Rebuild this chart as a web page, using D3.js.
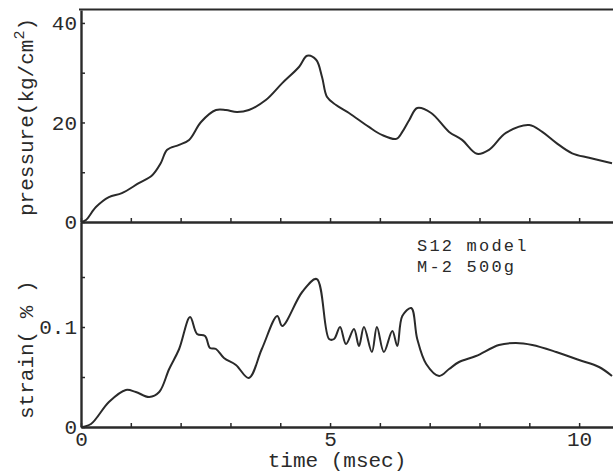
<!DOCTYPE html>
<html>
<head>
<meta charset="utf-8">
<script src="https://cdn.jsdelivr.net/npm/d3@7"></script>
<style>
  body { margin: 0; background: #fff; }
  text { font-family: "Liberation Mono", "Courier New", monospace; fill: #2a2a2a; }
</style>
</head>
<body>
<script>
// time (msec) and pressure (kg/cm2)
const pressureTime = [0, 0.1, 0.3, 0.56, 0.82, 1.16, 1.43, 1.6, 1.73, 1.97, 2.17, 2.41, 2.71, 2.91, 3.13, 3.37, 3.71, 4.04, 4.38, 4.54, 4.72, 4.84, 4.94, 5.12, 5.38, 5.78, 6.04, 6.33, 6.45, 6.59, 6.75, 7.03, 7.39, 7.65, 7.95, 8.19, 8.53, 9.0, 9.26, 9.54, 9.86, 10.2, 10.66];
const pressureVals = [0, 0.4, 3, 5, 5.8, 7.8, 9.4, 11.8, 14.5, 15.5, 16.5, 20.1, 22.5, 22.5, 22.1, 22.5, 24.5, 27.9, 31.2, 33.4, 32.6, 29.1, 25.1, 23.5, 21.9, 19.1, 17.5, 16.7, 18.1, 20.5, 22.9, 21.9, 18.1, 16.5, 13.7, 14.5, 17.9, 19.5, 18.1, 15.9, 13.8, 12.9, 11.8];

// time (msec) and strain (%), lower trace
const strainTime = [0, 0.2, 0.56, 0.9, 1.1, 1.37, 1.57, 1.77, 1.97, 2.19, 2.33, 2.49, 2.59, 2.71, 2.87, 3.11, 3.37, 3.63, 3.94, 4.04, 4.44, 4.73, 4.98, 5.08, 5.2, 5.32, 5.48, 5.58, 5.68, 5.84, 5.94, 6.08, 6.25, 6.35, 6.45, 6.63, 6.75, 6.93, 7.19, 7.39, 7.59, 7.93, 8.39, 8.73, 9.06, 9.54, 10.0, 10.4, 10.66];
const strainVals = [0, 0.003, 0.025, 0.037, 0.035, 0.030, 0.035, 0.058, 0.078, 0.110, 0.093, 0.091, 0.079, 0.078, 0.069, 0.062, 0.049, 0.078, 0.111, 0.101, 0.135, 0.148, 0.088, 0.088, 0.1, 0.083, 0.098, 0.081, 0.1, 0.075, 0.1, 0.075, 0.096, 0.081, 0.111, 0.119, 0.088, 0.063, 0.051, 0.058, 0.065, 0.071, 0.082, 0.084, 0.082, 0.075, 0.067, 0.060, 0.051];

const timeTicks = [0, 1, 2, 3, 4, 5, 6, 7, 8, 9, 10];
const timeLabels = [0, 5, 10];
const pressureTicks = [0, 10, 20, 30, 40];
const pressureLabels = [0, 20, 40];
const strainTicks = [0, 0.05, 0.1, 0.15];
const strainLabels = [0, 0.1];

const width = 613, height = 476;
const ink = "#2a2a2a";

const svg = d3.select("body").append("svg")
    .attr("width", width)
    .attr("height", height);

// scales
const x = d3.scaleLinear().domain([0, 10.68]).range([81, 613]);
const yP = d3.scaleLinear().domain([0, 42.6]).range([222, 10]);
const yS = d3.scaleLinear().domain([0, 0.205]).range([427, 222]);

// top frame line
svg.append("line")
    .attr("x1", 79).attr("x2", 613)
    .attr("y1", 9.5).attr("y2", 9.5)
    .attr("stroke", ink).attr("stroke-width", 2.2);

// x axes (ticks pointing inward)
function styleAxis(g) {
    g.select(".domain").attr("stroke", ink).attr("stroke-width", 2.4);
    g.selectAll(".tick line").attr("stroke", ink).attr("stroke-width", 1.5);
    g.selectAll(".tick text")
        .style("font-family", "'Liberation Mono', monospace")
        .style("font-size", "21px")
        .attr("fill", ink);
}

svg.append("g")
    .attr("transform", `translate(0, ${yP(0)})`)
    .call(d3.axisBottom(x).tickValues(timeTicks).tickSizeInner(-4).tickSizeOuter(0).tickFormat(""))
    .call(styleAxis);

svg.append("g")
    .attr("transform", `translate(0, ${yS(0)})`)
    .call(d3.axisBottom(x).tickValues(timeTicks).tickSizeInner(-4).tickSizeOuter(0).tickPadding(4)
        .tickFormat(d => timeLabels.includes(d) ? d : ""))
    .call(styleAxis);

// y axes
svg.append("g")
    .attr("transform", `translate(${x(0)}, 0)`)
    .call(d3.axisLeft(yP).tickValues(pressureTicks).tickSizeInner(-4).tickSizeOuter(0).tickPadding(4)
        .tickFormat(d => pressureLabels.includes(d) ? d : ""))
    .call(styleAxis);

svg.append("g")
    .attr("transform", `translate(${x(0)}, 0)`)
    .call(d3.axisLeft(yS).tickValues(strainTicks).tickSizeInner(-4).tickSizeOuter(0).tickPadding(4)
        .tickFormat(d => strainLabels.includes(d) ? d : ""))
    .call(styleAxis);

// traces
const pLine = d3.line()
    .x((d, i) => x(pressureTime[i]))
    .y(d => yP(d))
    .curve(d3.curveCatmullRom.alpha(0.5));

svg.append("path")
    .datum(pressureVals)
    .attr("d", pLine)
    .attr("fill", "none")
    .attr("stroke", ink)
    .attr("stroke-width", 2);

const sLine = d3.line()
    .x((d, i) => x(strainTime[i]))
    .y(d => yS(d))
    .curve(d3.curveCatmullRom.alpha(0.5));

svg.append("path")
    .datum(strainVals)
    .attr("d", sLine)
    .attr("fill", "none")
    .attr("stroke", ink)
    .attr("stroke-width", 2);

// axis titles
const pLabel = svg.append("text")
    .attr("transform", "translate(33, 216) rotate(-90)")
    .style("font-size", "21px");
pLabel.append("tspan").text("pressure(kg/cm");
pLabel.append("tspan").attr("dy", -9).style("font-size", "15px").text("2");
pLabel.append("tspan").attr("dy", 9).text(")");

svg.append("text")
    .attr("transform", "translate(33, 419) rotate(-90)")
    .style("font-size", "21px")
    .text("strain( % )");

svg.append("text")
    .attr("x", 337).attr("y", 467)
    .attr("text-anchor", "middle")
    .style("font-size", "21px")
    .text("time (msec)");

// annotation (two lines, kept tight like the original)
svg.append("text")
    .attr("x", 417).attr("y", 251)
    .style("font-size", "17px")
    .style("letter-spacing", "2.2px")
    .text("S12 model");
svg.append("text")
    .attr("x", 417).attr("y", 272)
    .style("font-size", "17px")
    .style("letter-spacing", "2.2px")
    .text("M-2 500g");
</script>
</body>
</html>
